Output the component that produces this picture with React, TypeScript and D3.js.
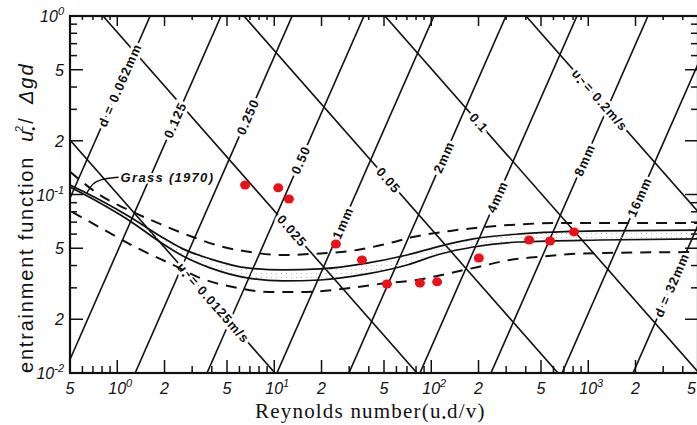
import React, { useEffect, useRef } from 'react';
import * as d3 from 'd3';

const W = 697;
const H = 425;

// lines of constant grain size d: Reynolds number where theta = 0.01 (slope +2 in log-log)
const grainLabels = ['d = 0.062mm', '0.125', '0.250', '0.50', '1mm', '2mm', '4mm', '8mm', '16mm', 'd = 32mm'];
const grainRe = [0.162, 0.458, 1.3, 3.73, 10.4, 29.9, 84.7, 240, 681, 1929];
const grainLabelTheta = [0.41, 0.261, 0.272, 0.156, 0.0692, 0.162, 0.0968, 0.156, 0.0968, 0.0311];

// lines of constant shear velocity u*: Reynolds number where theta = 0.01 (slope -1)
const shearLabels = ['u* = 0.0125m/s', '0.025', '0.05', '0.1', 'u* = 0.2m/s'];
const shearRe = [10.1, 81.1, 641, 5070, 40100];
const shearLabelTheta = [0.0247, 0.0625, 0.12, 0.252, 0.338];

// Shields band (two solid curves) and dashed envelopes
const bandRe = [0.5, 0.776, 1.205, 1.871, 2.62, 3.9, 6.7, 11.4, 19.6, 39.0, 70.1, 114, 185, 368, 1187, 4930];
const bandUpper = [0.113, 0.0931, 0.0748, 0.0586, 0.0496, 0.0436, 0.0388, 0.0378, 0.0383, 0.0413, 0.0458, 0.0514, 0.0564, 0.0601, 0.0625, 0.0632];
const bandLower = [0.11, 0.0896, 0.0711, 0.0542, 0.0452, 0.0388, 0.0341, 0.0328, 0.0332, 0.0359, 0.0403, 0.0464, 0.0508, 0.0542, 0.0556, 0.0564];

const dashHiRe = [0.5, 0.776, 1.26, 1.871, 3.03, 4.51, 7.01, 11.4, 16.9, 33.7, 54.6, 76.5, 132, 317, 660, 4930];
const dashHiTheta = [0.134, 0.0993, 0.0798, 0.0684, 0.0578, 0.0514, 0.0476, 0.0458, 0.0464, 0.0489, 0.0535, 0.0578, 0.0625, 0.0675, 0.0692, 0.0692];
const dashLoRe = [0.515, 0.67, 1.46, 2.27, 3.36, 5.46, 9.82, 14.6, 30.3, 52.2, 81.1, 132, 199, 317, 478, 776, 1278, 4930];
const dashLoTheta = [0.0798, 0.0702, 0.0483, 0.0403, 0.0341, 0.0303, 0.0284, 0.0284, 0.0299, 0.0319, 0.0332, 0.0363, 0.0393, 0.043, 0.0447, 0.0464, 0.047, 0.0476];

// red measured points
const obsRe = [6.52, 10.6, 12.4, 24.7, 36.2, 52.2, 84.7, 109, 201, 420, 571, 811];
const obsTheta = [0.113, 0.109, 0.0944, 0.0528, 0.043, 0.0315, 0.0319, 0.0324, 0.0441, 0.0556, 0.0549, 0.0617];

// tick labels
const xTickVals = [0.5, 1, 2, 5, 10, 20, 50, 100, 200, 500, 1000, 2000, 5000];
const xTickText = ['5', '10^0', '2', '5', '10^1', '2', '5', '10^2', '2', '5', '10^3', '2', '5'];
const yTickVals = [0.01, 0.02, 0.05, 0.1, 0.2, 0.5, 1];
const yTickText = ['10^-2', '2', '5', '10^-1', '2', '5', '10^0'];

// Grass (1970) annotation leader
const grassRe = [1.02, 0.776, 0.69, 0.641];
const grassTheta = [0.125, 0.122, 0.1146, 0.102];

const App = () => {
  const svgRef = useRef<SVGSVGElement>(null);

  useEffect(() => {
    const svg = d3.select(svgRef.current);
    svg.selectAll('*').remove();

    const x = d3.scaleLog().domain([0.5, 5000]).range([70, 698]);
    const y = d3.scaleLog().domain([0.01, 1]).range([373, 16]);
    const [xa, xb] = x.range();
    const [yb, ya] = y.range();
    const [reMin, reMax] = x.domain();

    const defs = svg.append('defs');
    defs.append('clipPath').attr('id', 'plot')
      .append('rect').attr('x', xa).attr('y', ya).attr('width', xb - xa).attr('height', yb - ya);
    const pat = defs.append('pattern').attr('id', 'stip')
      .attr('width', 5).attr('height', 4).attr('patternUnits', 'userSpaceOnUse');
    pat.append('circle').attr('cx', 1.5).attr('cy', 1.5).attr('r', 0.6).attr('fill', '#b5b5b5');

    svg.append('rect').attr('width', W).attr('height', H).attr('fill', '#fff');

    const g = svg.append('g').attr('clip-path', 'url(#plot)');
    const labelFont = "'Liberation Sans', Arial, sans-serif";

    const addLabel = (txt: string, px: number, py: number, angle: number) => {
      const t = g.append('text')
        .attr('transform', `translate(${px},${py}) rotate(${angle})`)
        .attr('text-anchor', 'middle')
        .attr('dy', '0.35em')
        .attr('font-family', labelFont)
        .attr('font-size', 13)
        .attr('font-weight', 'bold')
        .attr('letter-spacing', 1)
        .attr('fill', '#111')
        .attr('stroke', '#fff')
        .attr('stroke-width', 6)
        .attr('paint-order', 'stroke');
      if (txt.startsWith('u*')) {
        t.append('tspan').text('u');
        t.append('tspan').attr('font-size', 9).attr('dy', 3).text('•');
        t.append('tspan').attr('dy', -3).text(txt.slice(2));
      } else {
        t.text(txt);
      }
    };

    // constant grain size lines
    grainRe.forEach((re0) => {
      const f = (re: number) => 0.01 * (re / re0) ** 2;
      g.append('line')
        .attr('x1', x(reMin)).attr('y1', y(f(reMin)))
        .attr('x2', x(reMax)).attr('y2', y(f(reMax)))
        .attr('stroke', '#111').attr('stroke-width', 1.6);
    });
    // constant shear velocity lines
    shearRe.forEach((re0) => {
      const f = (re: number) => 0.01 * (re0 / re);
      g.append('line')
        .attr('x1', x(reMin)).attr('y1', y(f(reMin)))
        .attr('x2', x(reMax)).attr('y2', y(f(reMax)))
        .attr('stroke', '#111').attr('stroke-width', 1.6);
    });

    grainRe.forEach((re0, i) => {
      const th = grainLabelTheta[i];
      const re = re0 * Math.sqrt(th / 0.01);
      const ang = Math.atan2(y(th * 4) - y(th), x(re * 2) - x(re)) * 180 / Math.PI;
      addLabel(grainLabels[i], x(re), y(th), ang);
    });
    shearRe.forEach((re0, i) => {
      const th = shearLabelTheta[i];
      const re = re0 * 0.01 / th;
      const ang = Math.atan2(y(th / 2) - y(th), x(re * 2) - x(re)) * 180 / Math.PI;
      addLabel(shearLabels[i], x(re), y(th), ang);
    });

    // Shields band
    const area = d3.area<number>()
      .x((_, i) => x(bandRe[i]))
      .y0((_, i) => y(bandLower[i]))
      .y1((_, i) => y(bandUpper[i]))
      .curve(d3.curveMonotoneX);
    g.append('path').datum(bandRe).attr('d', area).attr('fill', 'url(#stip)');

    const curve = (res: number[], ths: number[]) =>
      d3.line<number>().x((_, i) => x(res[i])).y((_, i) => y(ths[i])).curve(d3.curveMonotoneX)(res);

    g.append('path').attr('d', curve(bandRe, bandUpper)).attr('fill', 'none').attr('stroke', '#111').attr('stroke-width', 1.7);
    g.append('path').attr('d', curve(bandRe, bandLower)).attr('fill', 'none').attr('stroke', '#111').attr('stroke-width', 1.7);
    g.append('path').attr('d', curve(dashHiRe, dashHiTheta)).attr('fill', 'none').attr('stroke', '#111')
      .attr('stroke-width', 2).attr('stroke-dasharray', '11,8');
    g.append('path').attr('d', curve(dashLoRe, dashLoTheta)).attr('fill', 'none').attr('stroke', '#111')
      .attr('stroke-width', 2).attr('stroke-dasharray', '11,8');

    // Grass (1970)
    g.append('path')
      .attr('d', d3.line<number>().x((_, i) => x(grassRe[i])).y((_, i) => y(grassTheta[i])).curve(d3.curveBasis)(grassRe))
      .attr('fill', 'none').attr('stroke', '#111').attr('stroke-width', 1.4);
    g.append('text')
      .attr('x', x(grassRe[0]) + 2).attr('y', y(grassTheta[0]) + 5)
      .attr('font-family', labelFont).attr('font-size', 13).attr('font-style', 'italic')
      .attr('font-weight', 'bold').attr('letter-spacing', 1.3).attr('fill', '#111')
      .attr('stroke', '#fff').attr('stroke-width', 4).attr('paint-order', 'stroke')
      .text('Grass (1970)');

    // measured points
    g.selectAll('ellipse.obs')
      .data(obsRe)
      .enter()
      .append('ellipse')
      .attr('class', 'obs')
      .attr('cx', (d) => x(d))
      .attr('cy', (d, i) => y(obsTheta[i]))
      .attr('rx', 5)
      .attr('ry', 4.5)
      .attr('fill', '#ec1018');

    // frame
    svg.append('rect').attr('x', xa).attr('y', ya).attr('width', xb - xa).attr('height', yb - ya)
      .attr('fill', 'none').attr('stroke', '#111').attr('stroke-width', 2.2);

    // ticks
    const ticks = svg.append('g').attr('stroke', '#111').attr('stroke-width', 1.5);
    const xMinor: number[] = [];
    for (let e = -1; e <= 3; e++) for (let k = 1; k <= 9; k++) {
      const v = k * 10 ** e;
      if (v >= reMin && v <= reMax) xMinor.push(v);
    }
    const yMinor: number[] = [];
    for (let e = -2; e <= 0; e++) for (let k = 1; k <= 9; k++) {
      const v = k * 10 ** e;
      if (v >= 0.01 && v <= 1) yMinor.push(v);
    }
    const len = (v: number) => {
      const k = Math.round(v / 10 ** Math.floor(Math.log10(v) + 1e-9));
      return k === 1 || k === 2 || k === 5 ? 13 : 7;
    };
    xMinor.forEach((v) => {
      ticks.append('line').attr('x1', x(v)).attr('x2', x(v)).attr('y1', yb).attr('y2', yb - len(v));
      ticks.append('line').attr('x1', x(v)).attr('x2', x(v)).attr('y1', ya).attr('y2', ya + len(v) - 3);
    });
    yMinor.forEach((v) => {
      ticks.append('line').attr('y1', y(v)).attr('y2', y(v)).attr('x1', xa).attr('x2', xa + len(v));
      ticks.append('line').attr('y1', y(v)).attr('y2', y(v)).attr('x1', xb).attr('x2', xb - len(v));
    });

    const tickFont = "'Liberation Sans', Arial, sans-serif";
    const addTickText = (sel: any, s: string) => {
      const [base, sup] = s.split('^');
      sel.append('tspan').text(base);
      if (sup) sel.append('tspan').attr('font-size', 11).attr('dy', -7).text(sup);
    };
    xTickVals.forEach((v, i) => {
      const last = i === xTickVals.length - 1;
      const t = svg.append('text')
        .attr('x', last ? W - 1 : x(v) + (xTickText[i].includes('^') ? 3 : 0))
        .attr('y', 394)
        .attr('text-anchor', last ? 'end' : 'middle')
        .attr('font-family', tickFont)
        .attr('font-style', 'italic')
        .attr('font-size', 16)
        .attr('fill', '#111');
      addTickText(t, xTickText[i]);
    });
    yTickVals.forEach((v, i) => {
      const t = svg.append('text')
        .attr('x', 64)
        .attr('y', y(v) + 6)
        .attr('text-anchor', 'end')
        .attr('font-family', tickFont)
        .attr('font-style', 'italic')
        .attr('font-size', 16)
        .attr('fill', '#111');
      addTickText(t, yTickText[i]);
    });

    // axis titles
    const xt = svg.append('text')
      .attr('x', 255).attr('y', 418)
      .attr('font-family', "'Liberation Serif', 'Times New Roman', serif")
      .attr('font-size', 21)
      .attr('letter-spacing', 1.2)
      .attr('fill', '#111');
    xt.append('tspan').text('Reynolds number(u');
    xt.append('tspan').attr('font-size', 12).attr('dy', 4).text('•');
    xt.append('tspan').attr('dy', -4).text('d/v)');

    const yt = svg.append('text')
      .attr('transform', `translate(33,${yb}) rotate(-90)`)
      .attr('font-family', "'Liberation Sans', Arial, sans-serif")
      .attr('font-size', 20)
      .attr('fill', '#111');
    yt.append('tspan').attr('letter-spacing', 1.8).text('entrainment function');
    yt.append('tspan').attr('dx', 14).attr('font-style', 'italic').text('u');
    yt.append('tspan').attr('font-size', 11).attr('dy', 4).text('•');
    yt.append('tspan').attr('font-size', 11).attr('dy', -14).attr('dx', -5).text('2');
    yt.append('tspan').attr('dy', 10).attr('dx', 2).text('/');
    yt.append('tspan').attr('dx', 14).attr('font-style', 'italic').attr('letter-spacing', 2).text('Δgd');
  }, []);

  return (
    <svg
      ref={svgRef}
      width={W}
      height={H}
      style={{ position: 'absolute', left: 0, top: 0 }}
    />
  );
};

export default App;
